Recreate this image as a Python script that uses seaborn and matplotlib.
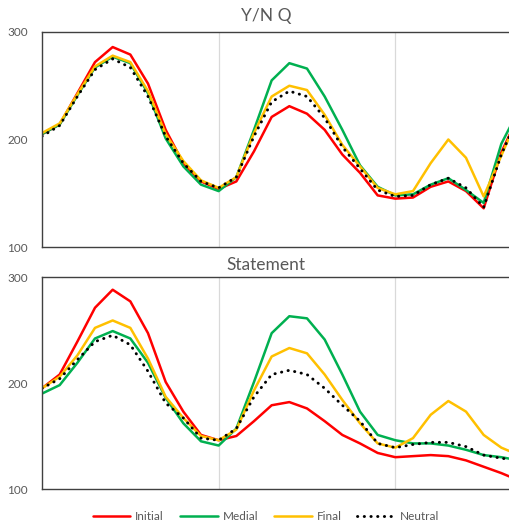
import pandas as pd
import matplotlib.pyplot as plt
import seaborn as sns

# time points (10 per syllable, 3 syllables; the picture is cropped at the right)
time_idx = list(range(28))

# Y/N Q panel
yn_initial = [205, 214, 243, 272, 286, 279, 252, 209, 178, 161, 154,
              161, 189, 221, 231, 224, 209, 186, 169, 148, 145,
              146, 156, 161, 152, 136, 188, 223]
yn_medial = [205, 214, 241, 267, 277, 271, 243, 201, 175, 158, 152,
             165, 209, 255, 271, 266, 240, 209, 176, 156, 148,
             149, 158, 164, 153, 141, 196, 228]
yn_final = [206, 215, 242, 268, 278, 272, 245, 205, 180, 162, 155,
            165, 206, 240, 250, 246, 223, 195, 175, 155, 149,
            152, 178, 200, 183, 147, 185, 223]
yn_neutral = [203, 213, 240, 265, 275, 267, 240, 203, 178, 161, 155,
              165, 203, 235, 245, 240, 220, 193, 173, 153, 147,
              148, 158, 164, 155, 137, 186, 223]

# Statement panel
st_initial = [195, 208, 239, 271, 288, 277, 247, 201, 173, 151, 146,
              150, 164, 179, 182, 176, 164, 151, 143, 134, 130,
              131, 132, 131, 127, 121, 115, 108]
st_medial = [190, 198, 219, 242, 249, 242, 219, 186, 162, 145, 141,
             157, 201, 247, 263, 261, 241, 208, 173, 151, 146,
             143, 143, 141, 137, 132, 130, 127]
st_final = [195, 206, 226, 252, 259, 252, 223, 187, 167, 150, 146,
            156, 193, 225, 233, 228, 208, 184, 162, 143, 139,
            148, 170, 183, 173, 151, 139, 132]
st_neutral = [195, 204, 222, 239, 245, 236, 211, 181, 167, 148, 146,
              157, 187, 208, 212, 208, 195, 179, 164, 143, 139,
              142, 144, 144, 140, 132, 129, 127]

series_names = ["Initial", "Medial", "Final", "Neutral"]
colors = {"Initial": "#FF0000", "Medial": "#00B050", "Final": "#FFC000", "Neutral": "#000000"}

sns.set_theme(style="white")
plt.rcParams["font.family"] = ["Lato", "DejaVu Sans"]

fig = plt.figure(figsize=(5.10, 5.27), dpi=100)
ax_top = fig.add_axes([42 / 510, 1 - 247 / 527, 530 / 510, 215 / 527])
ax_bot = fig.add_axes([42 / 510, 1 - 489 / 527, 530 / 510, 212 / 527])

panels = [
    (ax_top, "Y/N Q", [yn_initial, yn_medial, yn_final, yn_neutral], 16),
    (ax_bot, "Statement", [st_initial, st_medial, st_final, st_neutral], 265),
]

grey = "#595959"
for ax, title, values, title_y in panels:
    for name, vals in zip(series_names, values):
        df = pd.DataFrame({"t": time_idx, "f0": vals})
        if name == "Neutral":
            sns.lineplot(data=df, x="t", y="f0", ax=ax, color=colors[name],
                         linewidth=2.1, linestyle=(0, (0.1, 2.2)),
                         dash_capstyle="round", label=name)
        else:
            sns.lineplot(data=df, x="t", y="f0", ax=ax, color=colors[name],
                         linewidth=1.8, label=name)
    ax.set_xlim(0, 30)
    ax.set_ylim(100, 300)
    ax.set_yticks([100, 200, 300])
    ax.set_xticks([])
    for xv in (10, 20):
        ax.axvline(xv, color="#d9d9d9", linewidth=0.9, zorder=0)
    ax.set_xlabel("")
    ax.set_ylabel("")
    ax.tick_params(axis="y", labelsize=8.5, colors=grey, length=0, pad=10)
    for sp in ax.spines.values():
        sp.set_color("#404040")
        sp.set_linewidth(1.0)
    ax.get_legend().remove()
    fig.text(266 / 510, 1 - title_y / 527, title, ha="center", va="center",
             fontsize=12.5, color=grey)

handles, labels = ax_bot.get_legend_handles_labels()
fig.legend(handles, labels, loc="center", bbox_to_anchor=(266 / 510, 1 - 517 / 527),
           ncol=4, frameon=False, fontsize=8.5, labelcolor=grey,
           handlelength=3.2, handletextpad=0.4, columnspacing=1.35)

fig.savefig("out.png", dpi=100)
